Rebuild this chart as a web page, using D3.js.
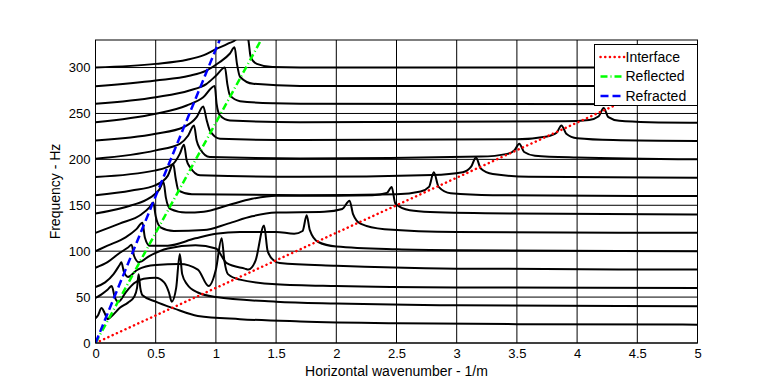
<!DOCTYPE html>
<html>
<head>
<meta charset="utf-8">
<script src="https://cdn.jsdelivr.net/npm/d3@7/dist/d3.min.js"></script>
<style>
body{margin:0;background:#fff;}
text{font-family:"Liberation Sans",Arial,sans-serif;fill:#000;}
</style>
</head>
<body>
<svg id="graph"></svg>
<script>
var xTicks=[0,0.5,1,1.5,2,2.5,3,3.5,4,4.5,5]
var yTicks=[0,50,100,150,200,250,300]

// one response curve per frequency: [wavenumber, Hz]
var curve20=[[0,27],[0.02,30],[0.05,38],[0.075,33],[0.1,26],[0.14,30],[0.2,38],[0.27,44],[0.32,50],[0.345,60],[0.358,75],[0.372,60],[0.39,52],[0.5,45],[0.65,37.7],[0.85,29.5],[1.2,26],[1.7,23.5],[2.5,21.5],[3.5,20.5],[5,20]]
var curve40=[[0,49],[0.05,53],[0.1,58],[0.135,62],[0.16,50],[0.19,45],[0.25,55],[0.32,65],[0.4,70],[0.5,71],[0.57,66],[0.61,55],[0.633,45],[0.67,60],[0.7,97],[0.72,75],[0.76,64],[0.85,55],[1.0,50],[1.5,45],[2.0,43],[3.0,41],[5,40]]
var curve60=[[0,61],[0.08,66],[0.15,75],[0.2,85],[0.215,88],[0.235,78],[0.27,72],[0.35,80],[0.5,85],[0.7,86],[0.85,80],[0.94,62],[1.0,80],[1.048,114],[1.07,90],[1.1,75],[1.2,69],[1.5,64],[2.0,62],[3.0,60.5],[5,60]]
var curve80=[[0,82],[0.1,88],[0.2,98],[0.27,104],[0.3,107],[0.32,95],[0.36,88],[0.45,95],[0.6,103],[0.83,106.5],[1.0,103],[1.09,87],[1.24,81],[1.27,80],[1.33,90],[1.4,128],[1.43,100],[1.48,90],[1.53,87],[2.0,84],[3.0,81],[5,80]]
var curve100=[[0,100],[0.1,106],[0.25,115],[0.34,124],[0.39,131],[0.41,115],[0.45,106],[0.6,106],[0.83,114],[1.0,119],[1.2,121],[1.5,121],[1.65,119],[1.72,122],[1.754,139],[1.78,123],[1.85,110],[2.0,105],[2.5,102],[3.0,101],[5,100]]
var curve120=[[0,120],[0.2,130],[0.38,140],[0.45,148],[0.48,153],[0.5,138],[0.54,126],[0.65,122],[0.9,123],[1.1,130],[1.3,138],[1.5,142],[1.9,143],[2.05,146],[2.11,155],[2.14,140],[2.2,130],[2.4,124],[3.0,121],[5,120]]
var curve140=[[0,141],[0.3,150],[0.45,158],[0.53,167],[0.565,175],[0.585,158],[0.62,146],[0.75,142],[0.9,143],[1.1,150],[1.3,157],[1.5,160.5],[2.0,160.5],[2.3,161],[2.42,163.5],[2.46,170],[2.49,152],[2.61,144.6],[2.78,142.7],[3.5,141],[5,140]]
var curve160=[[0,161],[0.3,166],[0.5,172],[0.6,182],[0.646,195],[0.665,180],[0.69,166],[0.8,162],[1.7,161],[2.5,162],[2.7,165],[2.77,170],[2.81,186],[2.85,170],[2.95,163],[3.3,161],[5,160]]
var curve180=[[0,180.8],[0.5,188],[0.646,195.3],[0.7,206],[0.735,216],[0.757,199],[0.785,191.6],[0.868,182.6],[1.7,181],[2.8,183],[3.05,186],[3.12,192],[3.16,202],[3.2,190],[3.3,184],[3.6,181],[5,180]]
var curve200=[[0,200.8],[0.5,209.8],[0.7,217],[0.77,226],[0.818,237],[0.84,220.6],[0.868,211.6],[0.95,202.5],[1.7,201],[3.2,203],[3.42,206],[3.48,210],[3.52,217],[3.56,208],[3.65,204],[4.0,202],[5,200]]
var curve220=[[0,220.6],[0.5,228],[0.73,235],[0.84,246],[0.895,257.6],[0.924,242.4],[0.95,231.5],[1.034,222.5],[1.7,221],[3.5,222],[3.75,225],[3.83,229],[3.87,237],[3.91,228],[4.0,223],[4.3,221],[5,220]]
var curve240=[[0,240.5],[0.5,249.7],[0.757,258.7],[0.895,267.7],[0.99,280],[1.006,260.5],[1.034,247.8],[1.117,242.4],[1.7,240.5],[3.9,241.5],[4.1,243],[4.18,247],[4.22,256],[4.26,246],[4.35,242],[4.6,240.5],[5,240]]
var curve260=[[0,260.5],[0.5,267.7],[0.78,275],[0.92,282],[1.0,291],[1.075,300],[1.095,282],[1.117,269.6],[1.2,263.4],[1.48,261],[1.7,260.5],[5,260]]
var curve280=[[0,279.5],[0.5,285.9],[0.78,291],[0.92,296.7],[1.03,305.8],[1.115,315],[1.155,322],[1.175,304],[1.2,290],[1.31,282.3],[1.7,280],[5,280]]
var curve300=[[0,300],[0.5,304],[0.76,308.5],[0.9,313.5],[1.0,320],[1.1,326],[1.17,331],[1.2,345],[1.225,360],[1.25,345],[1.27,330],[1.29,311],[1.34,304],[1.47,300.5],[1.7,300],[5,300]]
var curves=[curve20,curve40,curve60,curve80,curve100,curve120,curve140,curve160,curve180,curve200,curve220,curve240,curve260,curve280,curve300]

// dispersion lines
var interfaceLine=[[0,0],[5,300]]
var reflectedLine=[[0,0],[1.375,330]]
var refractedLine=[[0,0],[1.031,330]]
var legendNames=["Interface","Reflected","Refracted"]
var legendColors=["#ff0000","#00ff00","#0000ff"]
var legendDash=["0.1,4.6","7,3,1,3","8,4"]

var screen={width:772,height:390}
var margin={left:95.5,right:74.5,top:40,bottom:47}
var w=screen.width-margin.left-margin.right
var h=screen.height-margin.top-margin.bottom

var svg=d3.select("#graph")
    .attr("width",screen.width)
    .attr("height",screen.height)

var xScale=d3.scaleLinear().domain([0,5]).range([0,w])
var yScale=d3.scaleLinear().domain([0,330]).range([h,0])

var plot=svg.append("g").attr("transform","translate("+margin.left+","+margin.top+")")

plot.append("clipPath").attr("id","clip")
    .append("rect").attr("width",w).attr("height",h)

// grid
plot.append("g").selectAll("line").data(xTicks).enter().append("line")
    .attr("x1",function(d){return xScale(d)}).attr("x2",function(d){return xScale(d)})
    .attr("y1",0).attr("y2",h)
    .attr("stroke","#000").attr("stroke-width",1)
plot.append("g").selectAll("line").data(yTicks).enter().append("line")
    .attr("y1",function(d){return yScale(d)}).attr("y2",function(d){return yScale(d)})
    .attr("x1",0).attr("x2",w)
    .attr("stroke","#000").attr("stroke-width",1)

var line=d3.line()
    .x(function(d){return xScale(d[0])})
    .y(function(d){return yScale(d[1])})
    .curve(d3.curveMonotoneX)

var inner=plot.append("g").attr("clip-path","url(#clip)")

inner.selectAll("path.resp").data(curves).enter().append("path")
    .attr("class","resp")
    .attr("d",line)
    .attr("fill","none").attr("stroke","#000").attr("stroke-width",2)

var straight=d3.line()
    .x(function(d){return xScale(d[0])})
    .y(function(d){return yScale(d[1])})

var dispersion=[interfaceLine,reflectedLine,refractedLine]
inner.selectAll("path.disp").data(dispersion).enter().append("path")
    .attr("class","disp")
    .attr("d",straight)
    .attr("fill","none")
    .attr("stroke",function(d,i){return legendColors[i]})
    .attr("stroke-width",2.5)
    .attr("stroke-linecap",function(d,i){return i==0?"round":"butt"})
    .attr("stroke-dasharray",function(d,i){return legendDash[i]})

// axes
var xAxis=d3.axisBottom(xScale).tickValues(xTicks).tickSize(0).tickPadding(6)
    .tickFormat(function(d){return d3.format("")(d)})
var yAxis=d3.axisLeft(yScale).tickValues(yTicks).tickSize(0).tickPadding(5)

var gx=plot.append("g").attr("transform","translate(0,"+h+")").call(xAxis)
var gy=plot.append("g").call(yAxis)
gx.select(".domain").remove()
gy.select(".domain").remove()
svg.selectAll(".tick text").attr("font-size",13).attr("font-family","Liberation Sans, Arial, sans-serif")

plot.append("rect").attr("width",w).attr("height",h)
    .attr("fill","none").attr("stroke","#000").attr("stroke-width",1)

svg.append("text").attr("x",margin.left+w/2).attr("y",376)
    .attr("text-anchor","middle").attr("font-size",14)
    .text("Horizontal wavenumber - 1/m")
svg.append("text").attr("transform","translate(60,"+(margin.top+h/2)+") rotate(-90)")
    .attr("text-anchor","middle").attr("font-size",14)
    .text("Frequency - Hz")

// legend
var lg=svg.append("g").attr("transform","translate(594.5,44.5)")
lg.append("rect").attr("width",103).attr("height",61)
    .attr("fill","#fff").attr("stroke","#000").attr("stroke-width",1)
lg.selectAll("line").data(legendNames).enter().append("line")
    .attr("x1",6).attr("x2",30)
    .attr("y1",function(d,i){return 12.5+i*19.5}).attr("y2",function(d,i){return 12.5+i*19.5})
    .attr("stroke",function(d,i){return legendColors[i]})
    .attr("stroke-width",2.5)
    .attr("stroke-linecap",function(d,i){return i==0?"round":"butt"})
    .attr("stroke-dasharray",function(d,i){return legendDash[i]})
lg.selectAll("text").data(legendNames).enter().append("text")
    .attr("x",31).attr("y",function(d,i){return 17+i*19.5})
    .attr("font-size",14)
    .text(function(d){return d})
</script>
</body>
</html>
